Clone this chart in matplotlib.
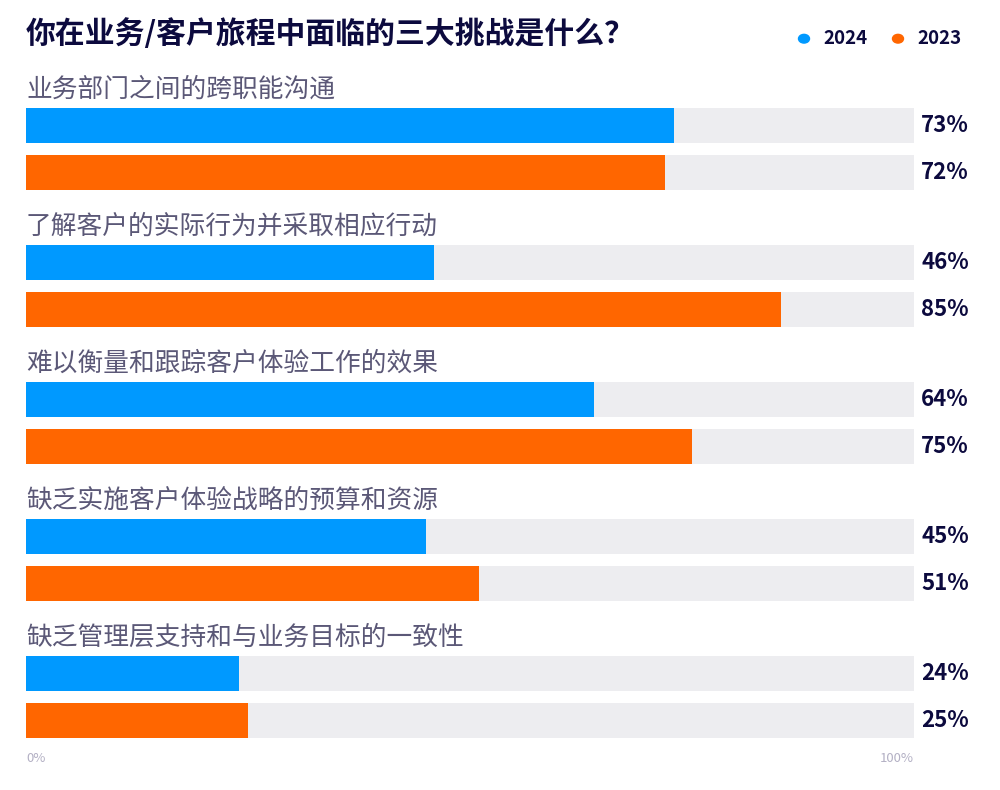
import numpy as np
import matplotlib.pyplot as plt

plt.rcParams['font.family'] = ['Noto Sans CJK SC', 'DejaVu Sans']

# data
categories = ['业务部门之间的跨职能沟通',
              '了解客户的实际行为并采取相应行动',
              '难以衡量和跟踪客户体验工作的效果',
              '缺乏实施客户体验战略的预算和资源',
              '缺乏管理层支持和与业务目标的一致性']
vals_2024 = [73, 46, 64, 45, 24]
vals_2023 = [72, 85, 75, 51, 25]
series = ['2024', '2023']
title = '你在业务/客户旅程中面临的三大挑战是什么？'

c24 = '#0099ff'
c23 = '#ff6600'
track = '#ededf0'
navy = '#0c0a3e'
labgray = '#5b5877'

fig = plt.figure(figsize=(10, 7.9), dpi=100)
ax = fig.add_axes([0.026, 0, 0.888, 1])
ax.set_xlim(0, 100)
ax.set_ylim(790, 0)
ax.axis('off')

first = 125.5
step = 137
gap = 47
h = 35

for i, cat in enumerate(categories):
    y1 = first + i * step
    y2 = y1 + gap
    for y, v, c in [(y1, vals_2024[i], c24), (y2, vals_2023[i], c23)]:
        ax.barh(y, 100, height=h, color=track, zorder=1)
        ax.barh(y, v, height=h, color=c, zorder=2)
        ax.text(100.8, y, f'{v}%', ha='left', va='center', fontsize=16,
                fontweight='black', color=navy, clip_on=False)
    ax.text(0, y1 - h / 2 - 5, cat, ha='left', va='bottom', fontsize=18.5,
            color=labgray)

ax.text(0, 758, '0%', fontsize=9.5, color='#b3b0c4', ha='left', va='center')
ax.text(100, 758, '100%', fontsize=9.5, color='#b3b0c4', ha='right', va='center')

fig.text(0.026, 0.957, title, fontsize=21.5, fontweight='bold', color=navy,
         ha='left', va='center')

# legend
for x, s, c in [(0.804, series[0], c24), (0.898, series[1], c23)]:
    fig.patches.append(plt.Circle((x, 0.951), 0.0055, transform=fig.transFigure,
                                  color=c, figure=fig))
    fig.text(x + 0.019, 0.951, s, fontsize=13.5, fontweight='black', color=navy,
             ha='left', va='center')

fig.savefig('out.png', dpi=100)
